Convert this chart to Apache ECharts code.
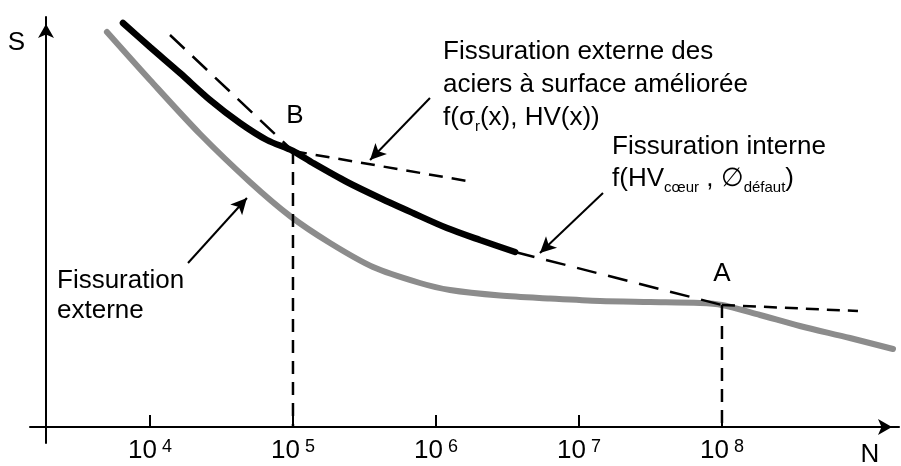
<!DOCTYPE html>
<html>
<head>
<meta charset="utf-8">
<script src="https://cdn.jsdelivr.net/npm/echarts@6/dist/echarts.min.js"></script>
<style>html,body{margin:0;padding:0;background:#fff}#c{width:901px;height:466px}</style>
</head>
<body>
<div id="c"></div>
<script>
// x = log10(N), y = S (arbitrary units, 0 on the N axis)
const tickExponents = [4, 5, 6, 7, 8];

// Fissuration externe des aciers à surface améliorée (black curve)
const surfaceCurve = [[3.811,404],[4.0,380],[4.21,354],[4.42,327],[4.629,304],[4.818,287],[5.0,276],[5.14,264],[5.378,245],[5.608,229],[5.839,214],[6.077,199],[6.308,187],[6.553,175]];

// Fissuration externe (grey curve)
const externalCurve = [[3.699,395],[4.0,347],[4.35,293],[4.699,245],[4.979,211],[5.259,184],[5.56,160],[5.888,144],[6.098,137],[6.448,131.5],[6.797,128.5],[7.147,126],[7.497,125],[7.846,124],[8.0,122],[8.266,112],[8.545,101],[8.895,89],[9.196,78]];

// dashed construction lines
const surfaceTangent = [[4.14,392],[5.0,276]];
const surfaceBranch = [[5.0,276],[6.259,245]];
const internalBranch = [[6.553,175],[8.0,122]];
const internalPlateau = [[8.0,122],[8.951,116]];
const dropB = [[5.0,276],[5.0,0]];
const dropA = [[8.0,122],[8.0,0]];

// named points
const pointNames = ['B', 'A'];
const pointCoords = [[5.0,276],[8.0,122]];

// annotation arrows (tail, head)
const arrowSurface = [[5.958,329],[5.539,267]];
const arrowInternal = [[7.168,234],[6.727,174]];
const arrowExternal = [[4.266,164],[4.678,229]];

const FONT = 'Liberation Sans, Arial, Helvetica, sans-serif';
const chart = echarts.init(document.getElementById('c'));

function dashed(data, dash) {
  return {
    type: 'line', data: data, symbol: 'none', silent: true, z: 4,
    lineStyle: { color: '#000', width: 2.5, type: dash }
  };
}
function arrowPair(a) {
  return [{ coord: a[0], symbol: 'none' }, { coord: a[1], symbol: 'arrow' }];
}

chart.setOption({
  animation: false,
  backgroundColor: '#fff',
  textStyle: { fontFamily: FONT, color: '#000' },
  grid: { left: 30, right: 2, top: 17, bottom: 23, outerBoundsMode: 'none', containLabel: false },
  xAxis: {
    type: 'value', min: 3.161, max: 9.238, offset: -16,
    name: 'N', nameLocation: 'end', nameGap: -29, nameMoveOverlap: false,
    nameTextStyle: { fontSize: 26, color: '#000', align: 'center', verticalAlign: 'top', lineHeight: 26, padding: [15, 0, 0, 0] },
    axisLine: { onZero: false, lineStyle: { color: '#000', width: 2 }, symbol: ['none', 'arrow'], symbolSize: [12, 14], symbolOffset: [0, -7] },
    axisTick: { show: true, inside: true, length: 12, customValues: tickExponents, lineStyle: { color: '#000', width: 2 } },
    axisLabel: {
      show: true, margin: 11, customValues: tickExponents, color: '#000',
      formatter: function (v) { return '{b|10}{e|' + v + '}'; },
      rich: {
        b: { fontSize: 26, lineHeight: 26, fontFamily: FONT, color: '#000' },
        e: { fontSize: 18, lineHeight: 18, verticalAlign: 'top', padding: [0, 0, 0, 5], fontFamily: FONT, color: '#000' }
      }
    },
    splitLine: { show: false }
  },
  yAxis: {
    type: 'value', min: -16, max: 410, offset: -16,
    name: 'S', nameLocation: 'end', nameGap: -26, nameMoveOverlap: false,
    nameTextStyle: { fontSize: 26, color: '#000', align: 'right', verticalAlign: 'middle', padding: [0, 21, 0, 0] },
    axisLine: { show: true, onZero: false, lineStyle: { color: '#000', width: 2 }, symbol: ['none', 'arrow'], symbolSize: [12, 14], symbolOffset: [0, -7] },
    axisTick: { show: false },
    axisLabel: { show: false },
    splitLine: { show: false }
  },
  series: [
    { type: 'line', data: externalCurve, symbol: 'none', smooth: 0.3, silent: true, z: 2,
      lineStyle: { color: '#8c8c8c', width: 6, cap: 'round' } },
    { type: 'line', data: surfaceCurve, symbol: 'none', smooth: 0.3, silent: true, z: 3,
      lineStyle: { color: '#000', width: 6.5, cap: 'round' } },
    dashed(surfaceTangent, [20, 11]),
    dashed(surfaceBranch, [14, 9]),
    dashed(internalBranch, [20, 12]),
    dashed(internalPlateau, [13, 8]),
    dashed(dropB, [13, 8]),
    dashed(dropA, [13, 8]),
    { type: 'scatter', symbol: 'circle', symbolSize: 1, silent: true, z: 6,
      itemStyle: { color: '#000', opacity: 0 },
      data: pointNames.map(function (n, i) { return { name: n, value: pointCoords[i] }; }),
      label: { show: true, position: 'top', distance: 0, formatter: '{b}', fontSize: 26, color: '#000', opacity: 1, fontFamily: FONT },
      labelLayout: function (p) { return p.dataIndex === 0 ? { dx: 2, dy: -22 } : { dx: 0, dy: -18 }; }
    },
    { type: 'line', data: [], silent: true, z: 5,
      markLine: {
        silent: true, animation: false, symbolSize: [12, 16],
        label: { show: false },
        lineStyle: { color: '#000', width: 2, type: 'solid' },
        emphasis: { disabled: true },
        data: [arrowPair(arrowSurface), arrowPair(arrowInternal), arrowPair(arrowExternal)]
      }
    }
  ],
  graphic: [
    { type: 'text', left: 443, top: 35, silent: true,
      style: { text: 'Fissuration externe des\naciers à surface améliorée\nf(σ{s|r}(x), HV(x))',
        fontSize: 26, fontFamily: FONT, fill: '#000', lineHeight: 33,
        rich: { s: { fontSize: 15, lineHeight: 20, verticalAlign: 'bottom', fontFamily: FONT, fill: '#000' } } } },
    { type: 'text', left: 612, top: 131, silent: true,
      style: { text: 'Fissuration interne\nf(HV{s|cœur} , ∅{s|défaut})',
        fontSize: 26, fontFamily: FONT, fill: '#000', lineHeight: 32,
        rich: { s: { fontSize: 15, lineHeight: 20, verticalAlign: 'bottom', fontFamily: FONT, fill: '#000' } } } },
    { type: 'text', left: 57, top: 266, silent: true,
      style: { text: 'Fissuration\nexterne', fontSize: 26, fontFamily: FONT, fill: '#000', lineHeight: 30 } }
  ]
});
</script>
</body>
</html>
